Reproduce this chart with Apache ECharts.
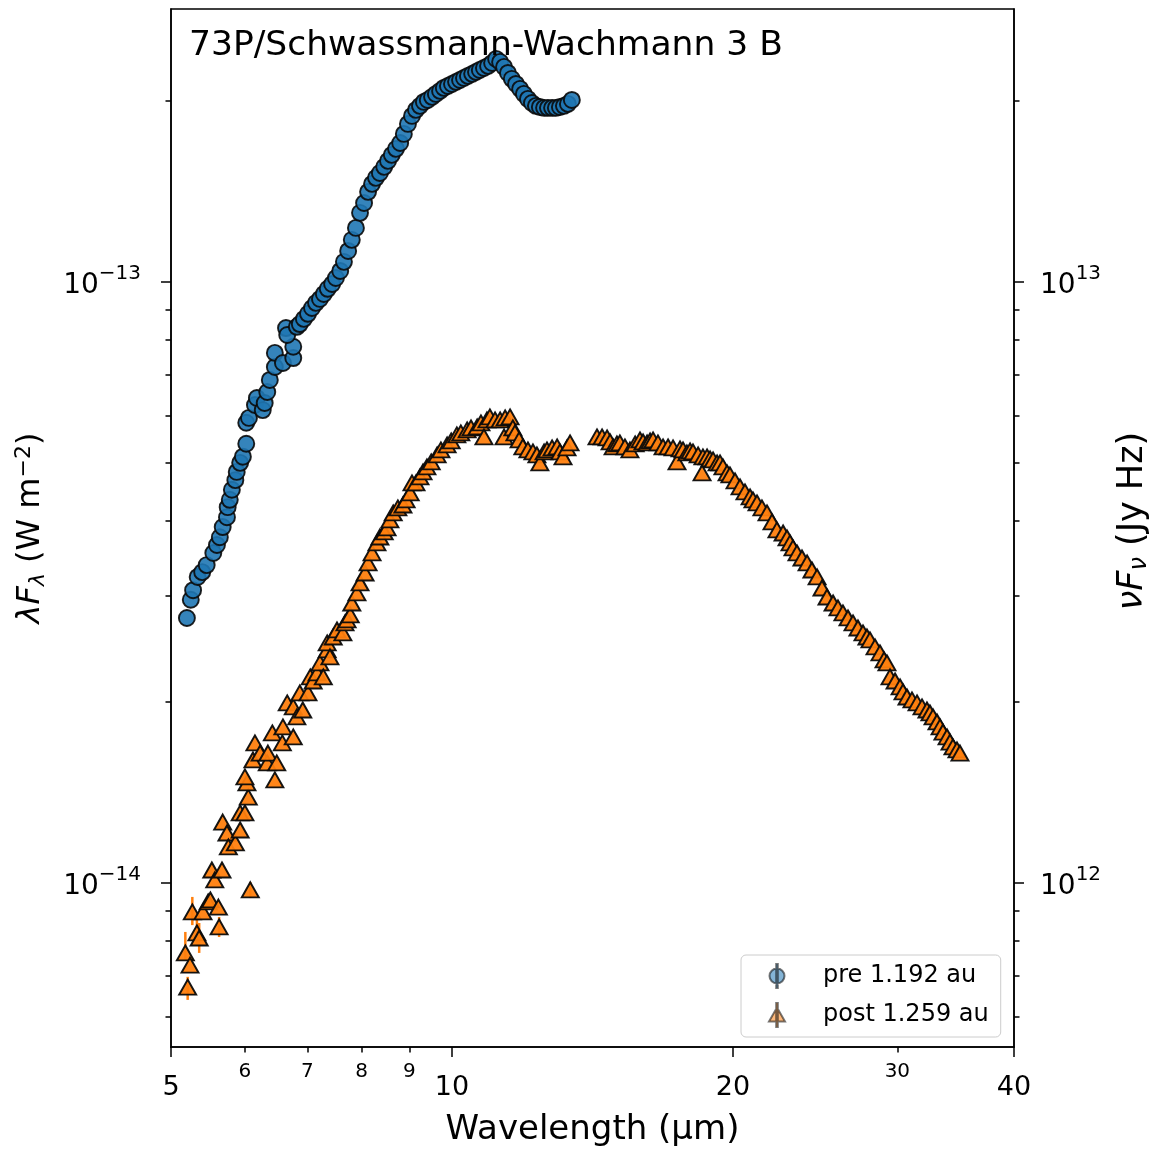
<!DOCTYPE html>
<html>
<head>
<meta charset="utf-8">
<title>73P/Schwassmann-Wachmann 3 B spectral energy distribution</title>
<script src="https://cdn.jsdelivr.net/npm/echarts@6/dist/echarts.min.js"></script>
<style>
  html, body { margin: 0; padding: 0; background: #ffffff; }
  #chart { width: 1159px; height: 1154px; }
</style>
</head>
<body>
<div id="chart"></div>
<script>
// ---- data: wavelength (µm), λFλ (W m^-2) ----
const prePoints = [
  [5.20, 2.76e-14], [5.25, 2.96e-14], [5.28, 3.07e-14], [5.34, 3.23e-14], [5.40, 3.29e-14],
  [5.46, 3.38e-14], [5.55, 3.54e-14], [5.60, 3.65e-14], [5.64, 3.76e-14], [5.68, 3.91e-14],
  [5.74, 4.06e-14], [5.75, 4.22e-14], [5.78, 4.34e-14], [5.81, 4.51e-14], [5.86, 4.68e-14],
  [5.88, 4.83e-14], [5.93, 5.00e-14], [5.97, 5.12e-14], [6.02, 5.38e-14], [6.02, 5.83e-14],
  [6.06, 5.94e-14], [6.15, 6.24e-14], [6.18, 6.41e-14], [6.27, 6.12e-14], [6.30, 6.29e-14],
  [6.34, 6.56e-14], [6.38, 6.87e-14], [6.46, 7.22e-14], [6.46, 7.62e-14], [6.59, 7.33e-14],
  [6.76, 7.47e-14], [6.76, 7.80e-14], [6.64, 8.38e-14], [6.66, 8.16e-14], [6.82, 8.42e-14],
  [6.87, 8.51e-14], [6.94, 8.68e-14], [7.01, 8.85e-14], [7.08, 9.05e-14], [7.15, 9.23e-14],
  [7.22, 9.37e-14], [7.29, 9.55e-14], [7.36, 9.74e-14], [7.44, 9.92e-14], [7.51, 10.15e-14],
  [7.59, 10.43e-14], [7.66, 10.80e-14], [7.74, 11.26e-14], [7.81, 11.75e-14], [7.89, 12.30e-14],
  [7.97, 13.03e-14], [8.05, 13.53e-14], [8.13, 14.12e-14], [8.21, 14.56e-14], [8.29, 14.90e-14],
  [8.37, 15.18e-14], [8.46, 15.54e-14], [8.54, 15.90e-14], [8.62, 16.27e-14], [8.71, 16.65e-14],
  [8.80, 17.03e-14], [8.88, 17.63e-14], [8.97, 18.32e-14], [9.06, 18.89e-14], [9.15, 19.33e-14],
  [9.24, 19.63e-14], [9.33, 19.93e-14], [9.42, 20.08e-14], [9.52, 20.32e-14], [9.61, 20.55e-14],
  [9.71, 20.79e-14], [9.80, 21.03e-14], [9.90, 21.19e-14], [10.00, 21.35e-14], [10.10, 21.52e-14],
  [10.20, 21.68e-14], [10.30, 21.85e-14], [10.40, 22.02e-14], [10.51, 22.19e-14], [10.61, 22.36e-14],
  [10.71, 22.53e-14], [10.82, 22.70e-14], [10.93, 22.88e-14], [11.04, 23.14e-14], [11.15, 23.50e-14],
  [11.26, 23.23e-14], [11.37, 22.79e-14], [11.48, 22.27e-14], [11.59, 21.77e-14], [11.71, 21.35e-14],
  [11.83, 20.95e-14], [11.94, 20.55e-14], [12.06, 20.16e-14], [12.18, 19.85e-14], [12.30, 19.63e-14],
  [12.42, 19.55e-14], [12.55, 19.48e-14], [12.67, 19.48e-14], [12.80, 19.48e-14], [12.92, 19.48e-14],
  [13.05, 19.55e-14], [13.18, 19.63e-14], [13.31, 19.78e-14], [13.44, 20.08e-14]
];

const postPoints = [
  [5.18, 0.765e-14], [5.21, 0.671e-14], [5.24, 0.730e-14], [5.27, 0.895e-14], [5.33, 0.826e-14],
  [5.36, 0.810e-14], [5.41, 0.895e-14], [5.48, 0.930e-14], [5.51, 0.937e-14], [5.53, 1.051e-14],
  [5.57, 1.012e-14], [5.62, 0.912e-14], [5.63, 0.845e-14], [5.67, 1.051e-14], [5.68, 1.263e-14],
  [5.74, 1.211e-14], [5.76, 1.148e-14], [5.86, 1.166e-14], [5.93, 1.225e-14], [5.93, 1.308e-14],
  [6.00, 1.308e-14], [6.05, 1.390e-14], [6.03, 1.467e-14], [6.00, 1.501e-14], [6.08, 0.974e-14],
  [6.12, 1.602e-14], [6.15, 1.710e-14], [6.23, 1.645e-14], [6.34, 1.584e-14], [6.35, 1.645e-14],
  [6.42, 1.777e-14], [6.46, 1.484e-14], [6.49, 1.584e-14], [6.58, 1.710e-14], [6.59, 1.818e-14],
  [6.66, 1.993e-14], [6.76, 1.750e-14], [6.76, 1.963e-14], [6.82, 1.889e-14], [6.87, 2.071e-14],
  [6.92, 1.940e-14], [7.01, 2.071e-14], [7.05, 2.202e-14], [7.10, 2.168e-14], [7.17, 2.236e-14],
  [7.22, 2.323e-14], [7.28, 2.202e-14], [7.35, 2.442e-14], [7.35, 2.508e-14], [7.40, 2.377e-14],
  [7.46, 2.566e-14], [7.53, 2.636e-14], [7.64, 2.606e-14], [7.68, 2.708e-14], [7.72, 2.739e-14],
  [7.78, 2.792e-14], [7.81, 2.923e-14], [7.91, 3.038e-14], [7.97, 3.156e-14], [8.07, 3.279e-14],
  [8.13, 3.408e-14], [8.21, 3.541e-14], [8.31, 3.679e-14], [8.37, 3.764e-14], [8.46, 3.837e-14],
  [8.52, 3.897e-14], [8.58, 4.018e-14], [8.65, 4.127e-14], [8.75, 4.207e-14], [8.86, 4.255e-14],
  [8.93, 4.338e-14], [9.02, 4.456e-14], [9.06, 4.630e-14], [9.15, 4.630e-14], [9.24, 4.737e-14],
  [9.31, 4.829e-14], [9.40, 4.922e-14], [9.50, 5.018e-14], [9.64, 5.154e-14], [9.73, 5.254e-14],
  [9.88, 5.355e-14], [9.98, 5.438e-14], [10.12, 5.564e-14], [10.22, 5.607e-14], [10.38, 5.672e-14],
  [10.48, 5.716e-14], [10.64, 5.738e-14], [10.74, 5.826e-14], [10.82, 5.522e-14], [10.90, 5.894e-14],
  [10.98, 5.962e-14], [11.12, 5.894e-14], [11.26, 5.894e-14], [11.37, 5.522e-14], [11.40, 5.939e-14],
  [11.54, 5.962e-14], [11.62, 5.716e-14], [11.68, 5.607e-14], [11.80, 5.459e-14], [11.91, 5.314e-14],
  [12.06, 5.254e-14], [12.21, 5.214e-14], [12.33, 5.154e-14], [12.42, 4.998e-14], [12.55, 5.214e-14],
  [12.64, 5.254e-14], [12.80, 5.294e-14], [12.96, 5.314e-14], [13.05, 5.214e-14], [13.15, 5.115e-14],
  [13.28, 5.294e-14], [13.38, 5.397e-14],
  [14.30, 5.522e-14], [14.48, 5.522e-14], [14.66, 5.501e-14], [14.77, 5.417e-14], [14.88, 5.314e-14],
  [15.02, 5.376e-14], [15.13, 5.397e-14], [15.32, 5.314e-14], [15.51, 5.254e-14], [15.71, 5.376e-14],
  [15.90, 5.459e-14], [16.02, 5.417e-14], [16.18, 5.397e-14], [16.30, 5.438e-14], [16.42, 5.459e-14],
  [16.62, 5.397e-14], [16.83, 5.314e-14], [17.04, 5.314e-14], [17.25, 5.294e-14], [17.42, 5.018e-14],
  [17.55, 5.274e-14], [17.68, 5.254e-14], [17.85, 5.194e-14], [17.99, 5.234e-14], [18.12, 5.214e-14],
  [18.35, 5.154e-14], [18.53, 4.811e-14], [18.57, 5.115e-14], [18.76, 5.115e-14], [18.90, 5.076e-14],
  [19.04, 5.056e-14], [19.23, 4.998e-14], [19.37, 4.998e-14], [19.51, 4.922e-14], [19.71, 4.811e-14],
  [19.85, 4.774e-14], [20.10, 4.665e-14], [20.35, 4.559e-14], [20.60, 4.473e-14], [20.86, 4.388e-14],
  [21.01, 4.338e-14], [21.22, 4.288e-14], [21.48, 4.207e-14], [21.75, 4.127e-14], [22.02, 3.987e-14],
  [22.29, 3.867e-14], [22.63, 3.822e-14], [22.85, 3.750e-14], [23.02, 3.679e-14], [23.19, 3.609e-14],
  [23.42, 3.541e-14], [23.71, 3.473e-14], [24.01, 3.408e-14], [24.30, 3.317e-14], [24.61, 3.230e-14],
  [24.91, 3.096e-14], [25.22, 2.991e-14], [25.60, 2.923e-14], [25.91, 2.868e-14], [26.23, 2.814e-14],
  [26.56, 2.760e-14], [26.89, 2.708e-14], [27.22, 2.656e-14], [27.56, 2.606e-14], [27.83, 2.566e-14],
  [28.04, 2.537e-14], [28.39, 2.470e-14], [28.74, 2.414e-14], [29.03, 2.350e-14], [29.24, 2.323e-14],
  [29.46, 2.202e-14], [29.83, 2.168e-14], [30.20, 2.119e-14], [30.42, 2.079e-14], [30.72, 2.039e-14],
  [31.10, 2.016e-14], [31.49, 1.993e-14], [31.88, 1.963e-14], [32.27, 1.940e-14], [32.51, 1.918e-14],
  [32.76, 1.889e-14], [33.08, 1.853e-14], [33.33, 1.818e-14], [33.57, 1.783e-14], [33.91, 1.750e-14],
  [34.16, 1.716e-14], [34.41, 1.684e-14], [34.75, 1.665e-14], [35.01, 1.645e-14]
];

// uncertainty ranges on the faint short-wavelength points: [wavelength, low, high]
const postErrorBars = [
  [5.18, 0.745e-14, 0.829e-14], [5.21, 0.639e-14, 0.698e-14], [5.27, 0.851e-14, 0.948e-14],
  [5.33, 0.786e-14, 0.868e-14], [5.36, 0.765e-14, 0.858e-14], [5.63, 0.813e-14, 0.878e-14],
  [6.08, 0.944e-14, 1.004e-14]
];

const seriesNames = ['pre 1.192 au', 'post 1.259 au'];
const titleText = '73P/Schwassmann-Wachmann 3 B';

// axis ranges and ticks
const xRange = [5, 40];
const yRange = [5.335e-15, 2.845e-13];            // W m^-2
const JY_HZ_PER_W_M2 = 1e26;                       // 1 Jy Hz = 1e-26 W m^-2
const xMajorTicks = [5, 10, 20, 40];
const xMinorTicks = [6, 7, 8, 9, 30];
const yMajorTicks = [1e-14, 1e-13];
const yMinorTicks = [6e-15, 7e-15, 8e-15, 9e-15, 2e-14, 3e-14, 4e-14, 5e-14, 6e-14, 7e-14, 8e-14, 9e-14, 2e-13];
const yRightMajorTicks = yMajorTicks.map(v => v * JY_HZ_PER_W_M2);
const yRightMinorTicks = yMinorTicks.map(v => v * JY_HZ_PER_W_M2);

// ---- styling ----
const FONT = 'DejaVu Sans';
const INK = '#000000';
const BLUE = '#1f77b4';
const ORANGE = '#ff7f0e';
const MAJOR_TICK = 10;
const MINOR_TICK = 5.5;

function powerLabel(value) {
  const exp = Math.round(Math.log10(value));
  return '{b|10}{s|' + String(exp).replace('-', '\u2212') + '}';
}
const powerRich = {
  b: { fontFamily: FONT, fontSize: 28, color: INK, padding: [8, 0, 0, 0], verticalAlign: 'bottom' },
  s: { fontFamily: FONT, fontSize: 20, color: INK, verticalAlign: 'top' }
};

function baseLog(extra) {
  return Object.assign({
    type: 'log',
    logBase: 10,
    splitLine: { show: false },
    minorTick: { show: false },
    minorSplitLine: { show: false },
    axisPointer: { show: false }
  }, extra);
}

function nameRich(size, lead) {
  const sub = Math.round(size * 0.69);
  return {
    it: { fontFamily: FONT, fontSize: size, fontStyle: 'italic', color: INK, padding: [0, 0, 0, lead] },
    sub: { fontFamily: FONT, fontSize: sub, fontStyle: 'italic', color: INK, verticalAlign: 'bottom', padding: [14, 0, 0, 0] },
    rm: { fontFamily: FONT, fontSize: size, color: INK },
    sup: { fontFamily: FONT, fontSize: sub, color: INK, verticalAlign: 'top' }
  };
}

// legend glyphs: marker with a vertical error bar, drawn inside a 62 x 24 cell
const PRE_ICON = 'path://M0,0 L0,0.01 Z M62,24 L62,23.99 Z ' +
  'M13.5,12 A7.5,7.5 0 1,1 28.5,12 A7.5,7.5 0 1,1 13.5,12 Z M20.2,0 H21.8 V24 H20.2 Z';
const POST_ICON = 'path://M0,0 L0,0.01 Z M62,24 L62,23.99 Z ' +
  'M21,4.5 L29,18.5 L13,18.5 Z M20.2,0 H21.8 V24 H20.2 Z';

const chart = echarts.init(document.getElementById('chart'), null, { renderer: 'canvas' });

chart.setOption({
  animation: false,
  backgroundColor: '#ffffff',
  textStyle: { fontFamily: FONT },
  title: {
    text: titleText,
    left: 189,
    top: 29,
    padding: 0,
    textStyle: { fontFamily: FONT, fontSize: 34.5, fontWeight: 'normal', color: INK }
  },
  grid: {
    left: 171, right: 145, top: 9, bottom: 107,
    containLabel: false,
    outerBoundsMode: 'none',
    show: true,
    borderColor: INK,
    borderWidth: 1.5,
    backgroundColor: 'transparent'
  },
  legend: {
    left: 741,
    top: 955,
    orient: 'vertical',
    padding: [8, 12, 9, 14],
    itemWidth: 62,
    itemHeight: 24,
    itemGap: 13,
    symbolKeepAspect: false,
    backgroundColor: 'rgba(255,255,255,0.8)',
    borderColor: '#cccccc',
    borderWidth: 1,
    borderRadius: 5,
    selectedMode: false,
    textStyle: { fontFamily: FONT, fontSize: 24, color: INK },
    data: [
      { name: seriesNames[0], icon: PRE_ICON, itemStyle: { opacity: 0.55 } },
      { name: seriesNames[1], icon: POST_ICON, itemStyle: { opacity: 0.55 } }
    ]
  },
  xAxis: [
    baseLog({
      min: xRange[0], max: xRange[1], position: 'bottom',
      name: 'Wavelength (\u00b5m)',
      nameLocation: 'middle',
      nameGap: 66,
      nameTextStyle: { fontFamily: FONT, fontSize: 34, color: INK },
      axisLine: { show: true, lineStyle: { color: INK, width: 1.5 } },
      axisTick: { show: true, customValues: xMajorTicks, length: MAJOR_TICK, lineStyle: { color: INK, width: 1.5 } },
      axisLabel: { show: true, customValues: xMajorTicks, margin: 27, fontFamily: FONT, fontSize: 27, color: INK, formatter: v => String(v) }
    }),
    baseLog({
      min: xRange[0], max: xRange[1], position: 'bottom',
      axisLine: { show: false },
      axisTick: { show: true, customValues: xMinorTicks, length: MINOR_TICK, lineStyle: { color: INK, width: 1.5 } },
      axisLabel: { show: true, customValues: xMinorTicks, margin: 15, fontFamily: FONT, fontSize: 20, color: INK, formatter: v => String(v) }
    })
  ],
  yAxis: [
    baseLog({
      min: yRange[0], max: yRange[1], position: 'left',
      name: '{it|\u03bbF}{sub|\u03bb}{rm| (W m}{sup|\u22122}{rm|)}',
      nameLocation: 'middle',
      nameRotate: 90,
      nameGap: 122,
      nameTextStyle: { rich: nameRich(32, 0) },
      axisLine: { show: true, lineStyle: { color: INK, width: 1.5 } },
      axisTick: { show: true, customValues: yMajorTicks, length: MAJOR_TICK, lineStyle: { color: INK, width: 1.5 } },
      axisLabel: { show: true, customValues: yMajorTicks, margin: 30, formatter: powerLabel, rich: powerRich }
    }),
    baseLog({
      min: yRange[0], max: yRange[1], position: 'left',
      axisLine: { show: false },
      axisTick: { show: true, customValues: yMinorTicks, length: MINOR_TICK, lineStyle: { color: INK, width: 1.5 } },
      axisLabel: { show: false }
    }),
    baseLog({
      min: yRange[0] * JY_HZ_PER_W_M2, max: yRange[1] * JY_HZ_PER_W_M2, position: 'right',
      name: '{it|\u03bdF}{sub|\u03bd}{rm| (Jy Hz)}',
      nameLocation: 'middle',
      nameRotate: 90,
      nameGap: 100,
      nameTextStyle: { rich: nameRich(35, 14) },
      axisLine: { show: true, lineStyle: { color: INK, width: 1.5 } },
      axisTick: { show: true, customValues: yRightMajorTicks, length: MAJOR_TICK, lineStyle: { color: INK, width: 1.5 } },
      axisLabel: { show: true, customValues: yRightMajorTicks, margin: 26, formatter: powerLabel, rich: powerRich }
    }),
    baseLog({
      min: yRange[0] * JY_HZ_PER_W_M2, max: yRange[1] * JY_HZ_PER_W_M2, position: 'right',
      axisLine: { show: false },
      axisTick: { show: true, customValues: yRightMinorTicks, length: MINOR_TICK, lineStyle: { color: INK, width: 1.5 } },
      axisLabel: { show: false }
    })
  ],
  series: [
    {
      name: seriesNames[0],
      type: 'scatter',
      xAxisIndex: 0, yAxisIndex: 0,
      data: prePoints,
      symbol: 'circle',
      symbolSize: 16,
      silent: true,
      itemStyle: { color: BLUE, borderColor: '#0a0a0a', borderWidth: 1.9, opacity: 0.9 },
      z: 3
    },
    {
      name: 'post-errors',
      type: 'custom',
      xAxisIndex: 0, yAxisIndex: 0,
      data: postErrorBars,
      encode: { x: 0, y: [1, 2] },
      silent: true,
      renderItem: function (params, api) {
        const x = api.value(0);
        const p1 = api.coord([x, api.value(1)]);
        const p2 = api.coord([x, api.value(2)]);
        return {
          type: 'line',
          shape: { x1: p1[0], y1: p1[1], x2: p2[0], y2: p2[1] },
          style: { stroke: ORANGE, lineWidth: 2.5 }
        };
      },
      z: 3
    },
    {
      name: seriesNames[1],
      type: 'scatter',
      xAxisIndex: 0, yAxisIndex: 0,
      data: postPoints,
      symbol: 'triangle',
      symbolSize: [17, 15],
      silent: true,
      itemStyle: { color: ORANGE, borderColor: '#0a0a0a', borderWidth: 1.9, opacity: 0.95 },
      z: 4
    }
  ]
});
</script>
</body>
</html>
